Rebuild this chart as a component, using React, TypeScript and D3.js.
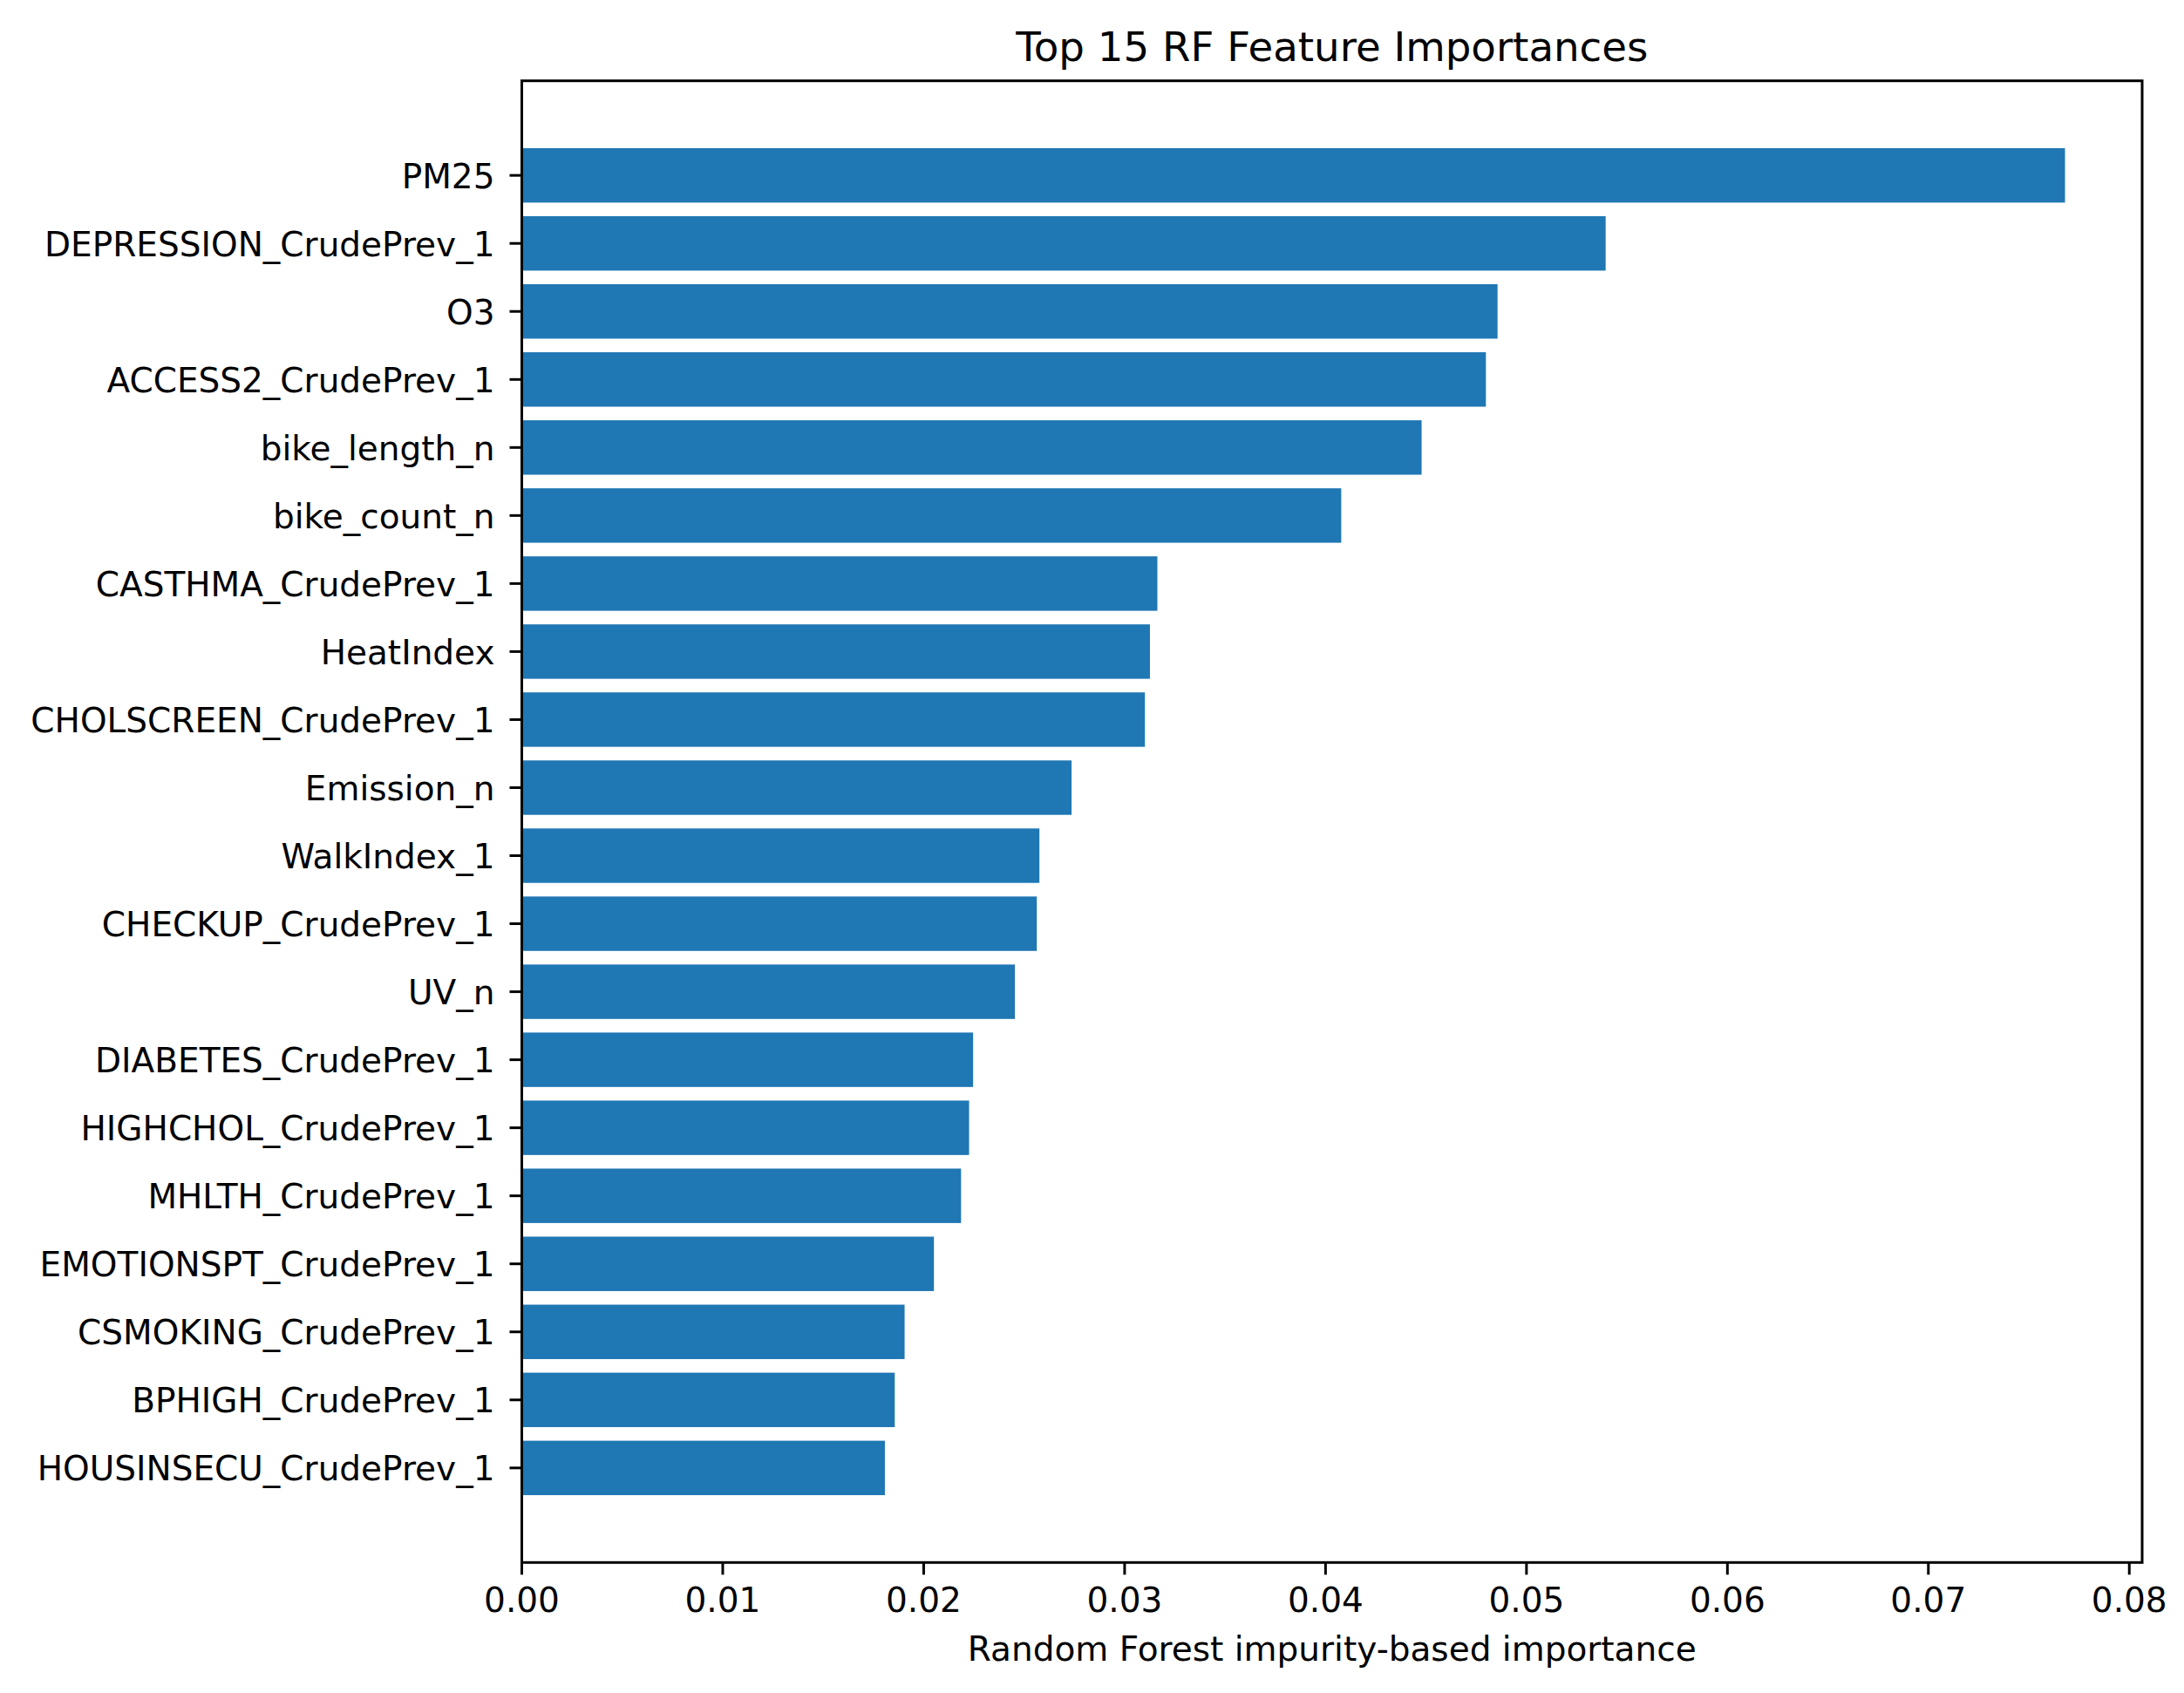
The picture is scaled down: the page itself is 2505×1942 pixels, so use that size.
import React from "react";
import * as d3 from "d3";

const features: string[] = [
  "PM25",
  "DEPRESSION_CrudePrev_1",
  "O3",
  "ACCESS2_CrudePrev_1",
  "bike_length_n",
  "bike_count_n",
  "CASTHMA_CrudePrev_1",
  "HeatIndex",
  "CHOLSCREEN_CrudePrev_1",
  "Emission_n",
  "WalkIndex_1",
  "CHECKUP_CrudePrev_1",
  "UV_n",
  "DIABETES_CrudePrev_1",
  "HIGHCHOL_CrudePrev_1",
  "MHLTH_CrudePrev_1",
  "EMOTIONSPT_CrudePrev_1",
  "CSMOKING_CrudePrev_1",
  "BPHIGH_CrudePrev_1",
  "HOUSINSECU_CrudePrev_1",
];

const importances: number[] = [
  0.0768, 0.05394, 0.04856, 0.04798, 0.04478, 0.04078, 0.03163, 0.03126,
  0.03101, 0.02736, 0.02576, 0.02563, 0.02454, 0.02246, 0.02226, 0.02186,
  0.02051, 0.01905, 0.01856, 0.01807,
];

const xTicks: number[] = [0, 0.01, 0.02, 0.03, 0.04, 0.05, 0.06, 0.07, 0.08];

const title = "Top 15 RF Feature Importances";
const xLabel = "Random Forest impurity-based importance";

const W = 2505;
const H = 1942;
const left = 598.5;
const right = 2457;
const top = 92.7;
const bottom = 1792.3;
const font = "'DejaVu Sans', sans-serif";
const tickFs = 39;
const barColor = "#1f77b4";
const tickLen = 14;

export default function App() {
  const n = features.length;
  const xMax = (d3.max(importances) as number) * 1.05;
  const x = d3.scaleLinear().domain([0, xMax]).range([left, right]);
  const barH = 0.8;
  const lo = -barH / 2;
  const hi = n - 1 + barH / 2;
  const m = (hi - lo) * 0.05;
  const y = d3.scaleLinear().domain([lo - m, hi + m]).range([top, bottom]);
  const fmt = d3.format(".2f");

  return (
    <svg
      width={W}
      height={H}
      style={{ position: "absolute", left: 0, top: 0, background: "#fff" }}
      fontFamily={font}
    >
      <rect x={0} y={0} width={W} height={H} fill="#fff" />
      {importances.map((v, i) => (
        <rect
          key={features[i]}
          x={x(0)}
          y={y(i - barH / 2)}
          width={x(v) - x(0)}
          height={y(i + barH / 2) - y(i - barH / 2)}
          fill={barColor}
        />
      ))}
      <rect
        x={left}
        y={top}
        width={right - left}
        height={bottom - top}
        fill="none"
        stroke="#000"
        strokeWidth={3}
      />
      {features.map((f, i) => (
        <g key={"yt" + f}>
          <line
            x1={left - tickLen}
            x2={left}
            y1={y(i)}
            y2={y(i)}
            stroke="#000"
            strokeWidth={3}
          />
          <text
            x={left - tickLen - 17}
            y={y(i) + 14.5}
            textAnchor="end"
            fontSize={tickFs}
            fill="#000"
          >
            {f}
          </text>
        </g>
      ))}
      {xTicks.map((t) => (
        <g key={"xt" + t}>
          <line
            x1={x(t)}
            x2={x(t)}
            y1={bottom}
            y2={bottom + tickLen}
            stroke="#000"
            strokeWidth={3}
          />
          <text
            x={x(t)}
            y={1849}
            textAnchor="middle"
            fontSize={tickFs}
            fill="#000"
          >
            {fmt(t)}
          </text>
        </g>
      ))}
      <text
        x={(left + right) / 2}
        y={1904.5}
        textAnchor="middle"
        fontSize={tickFs}
        fill="#000"
      >
        {xLabel}
      </text>
      <text
        x={(left + right) / 2}
        y={69.5}
        textAnchor="middle"
        fontSize={46.7}
        fill="#000"
      >
        {title}
      </text>
    </svg>
  );
}
